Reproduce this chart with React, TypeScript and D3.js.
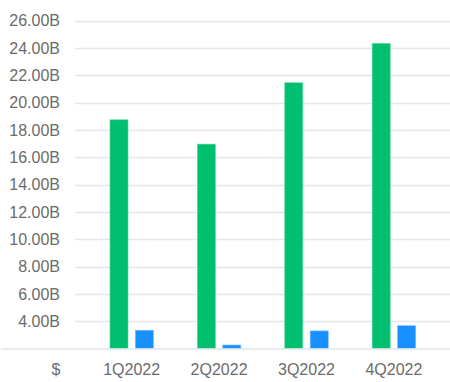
import React from "react";
import * as d3 from "d3";

const categories = ["1Q2022", "2Q2022", "3Q2022", "4Q2022"];
const seriesNames = ["green", "blue"];
const greenValues = [18.75, 16.97, 21.46, 24.34];
const blueValues = [3.35, 2.27, 3.3, 3.68];
const yTicks = [4, 6, 8, 10, 12, 14, 16, 18, 20, 22, 24, 26];
const colors = ["#00bf6f", "#1890ff"];

const W = 450;
const H = 382;

export default function App() {
  const y = d3.scaleLinear().domain([2, 26]).range([348.7, 20.7]);
  const x0 = d3.scaleBand<string>().domain(categories).range([88, 437.6]).padding(0);
  const x1 = d3
    .scaleBand<string>()
    .domain(seriesNames)
    .range([0, x0.bandwidth()])
    .paddingInner(0.29)
    .paddingOuter(0.864);
  const data = categories.map((c, i) => ({ c, vals: [greenValues[i], blueValues[i]] }));
  const font = "Arial, 'Liberation Sans', sans-serif";
  return (
    <svg
      width={W}
      height={H}
      style={{ position: "absolute", left: 0, top: 0, background: "#fff" }}
      fontFamily={font}
    >
      {yTicks.map((t) => (
        <g key={t}>
          <line x1={75} x2={W} y1={Math.round(y(t)) + 0.5} y2={Math.round(y(t)) + 0.5} stroke="#e5e7eb" strokeWidth={1.3} />
          <text x={60} y={y(t)} dy="0.35em" textAnchor="end" fontSize={16} fill="#6b6b6b">
            {t.toFixed(2)}B
          </text>
        </g>
      ))}
      {data.map((d) => (
        <g key={d.c} transform={`translate(${x0(d.c)},0)`}>
          {d.vals.map((v, j) => (
            <rect
              key={j}
              x={x1(seriesNames[j])}
              y={y(v)}
              width={x1.bandwidth()}
              height={y(2) - y(v)}
              fill={colors[j]}
              stroke={j === 0 ? "#5fd9a3" : "#74b9ff"}
              strokeWidth={0.6}
            />
          ))}
          <text
            x={x0.bandwidth() / 2}
            y={369}
            dy="0.35em"
            textAnchor="middle"
            fontSize={16}
            fill="#6b6b6b"
          >
            {d.c}
          </text>
        </g>
      ))}
      <line x1={1} x2={W} y1={349} y2={349} stroke="#e1e4ea" strokeWidth={1.5} />
      <text x={56} y={369} dy="0.35em" textAnchor="middle" fontSize={16} fill="#6b6b6b">
        $
      </text>
    </svg>
  );
}
